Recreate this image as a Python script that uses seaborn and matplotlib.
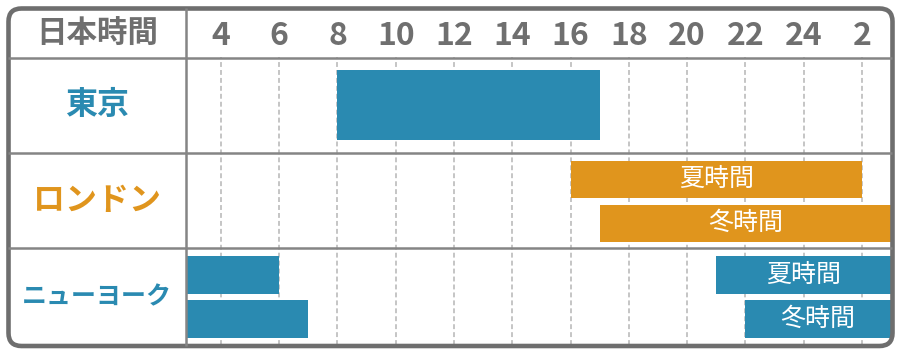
import matplotlib
matplotlib.use("Agg")
import matplotlib.pyplot as plt
import seaborn as sns
import pandas as pd
from matplotlib.patches import FancyBboxPatch

sns.set_theme(style="white")
plt.rcParams['font.family'] = ['Noto Sans CJK JP', 'DejaVu Sans']

# ---------------- data ----------------
header_label = "日本時間"
markets = ["東京", "ロンドン", "ニューヨーク"]
market_colors = ["#2a8ab1", "#e0951d", "#2a8ab1"]
market_font_sizes = [23, 23, 18]

session_market = ["東京", "ロンドン", "ロンドン", "ニューヨーク", "ニューヨーク"]
session_label = ["", "夏時間", "冬時間", "夏時間", "冬時間"]
session_start = [8, 16, 17, 21, 22]      # Japan time (hours)
session_end = [17, 26, 27, 30, 31]       # >24 means next day
session_slot = ["full", "upper", "lower", "upper", "lower"]

hour_ticks = [4, 6, 8, 10, 12, 14, 16, 18, 20, 22, 24, 26]
hour_labels = ["4", "6", "8", "10", "12", "14", "16", "18", "20", "22", "24", "2"]

XMIN, XMAX = 2.8, 27.0

df = pd.DataFrame({"market": session_market, "label": session_label,
                   "start": session_start, "end": session_end,
                   "slot": session_slot})

# ---------------- figure ----------------
W, H = 900, 351
fig = plt.figure(figsize=(W / 100, H / 100), dpi=100)
fig.patch.set_facecolor("white")

ax_l, ax_r, ax_t, ax_b = 186, 891, 57.5, 345
ax = fig.add_axes([ax_l / W, (H - ax_b) / H, (ax_r - ax_l) / W, (ax_b - ax_t) / H])
ax.set_facecolor("white")

slot_offset = {"full": 0.0, "upper": -0.23, "lower": 0.23}
slot_height = {"full": 0.73, "upper": 0.39, "lower": 0.39}
color_of = dict(zip(markets, market_colors))

for _, r in df.iterrows():
    yi = markets.index(r["market"]) + slot_offset[r["slot"]]
    h = slot_height[r["slot"]]
    c = color_of[r["market"]]
    ax.barh(yi, r["end"] - r["start"], left=r["start"], height=h,
            color=c, edgecolor="none", zorder=3)
    if r["end"] > XMAX:
        ax.barh(yi, r["end"] - r["start"], left=r["start"] - 24, height=h,
                color=c, edgecolor="none", zorder=3)
    if r["label"]:
        vis_l = max(r["start"], XMIN)
        vis_r = min(r["end"], XMAX)
        ax.text((vis_l + vis_r) / 2, yi, r["label"], ha="center", va="center",
                color="white", fontsize=18, zorder=4)

ax.set_xlim(XMIN, XMAX)
ax.set_ylim(2.5, -0.5)
for s in ax.spines.values():
    s.set_visible(False)

ax.set_xticks(hour_ticks)
ax.set_xticklabels(hour_labels)
ax.xaxis.tick_top()
ax.tick_params(axis="x", length=0, pad=15.5, labelsize=23, labelcolor="#6f6f6f")
for lbl in ax.get_xticklabels():
    lbl.set_fontweight("bold")
    lbl.set_va("center")
ax.grid(axis="x", color="#b5b5b5", linewidth=1.1, linestyle=(0, (3.2, 2.0)), zorder=0)
ax.grid(axis="y", visible=False)

ax.set_yticks(range(len(markets)))
ax.set_yticklabels(markets)
ax.tick_params(axis="y", length=0, pad=64)
for lbl, c, fs in zip(ax.get_yticklabels(), market_colors, market_font_sizes):
    lbl.set_color(c)
    lbl.set_fontsize(fs)
    lbl.set_fontweight("bold")
    lbl.set_ha("center")
    lbl.set_va("center")

# ---------------- overlay: frame & separators (pixel coords) ----------------
ov = fig.add_axes([0, 0, 1, 1])
ov.set_xlim(0, W)
ov.set_ylim(H, 0)
ov.axis("off")
ov.patch.set_visible(False)

line_c = "#858585"
for yy in [57.5, 153, 248]:
    ov.plot([8, 892], [yy, yy], color=line_c, lw=1.8, solid_capstyle="butt")
ov.plot([186, 186], [8, 346], color=line_c, lw=1.8, solid_capstyle="butt")

frame = FancyBboxPatch((8.5, 8.5), 884, 337.5,
                       boxstyle="round,pad=0,rounding_size=13",
                       facecolor="none", edgecolor="#6e6e6e", linewidth=3.3)
ov.add_patch(frame)

ov.text(97, 34, header_label, ha="center", va="center", fontsize=22,
        fontweight="bold", color="#6f6f6f")

fig.savefig("out.png", dpi=100, facecolor="white")
